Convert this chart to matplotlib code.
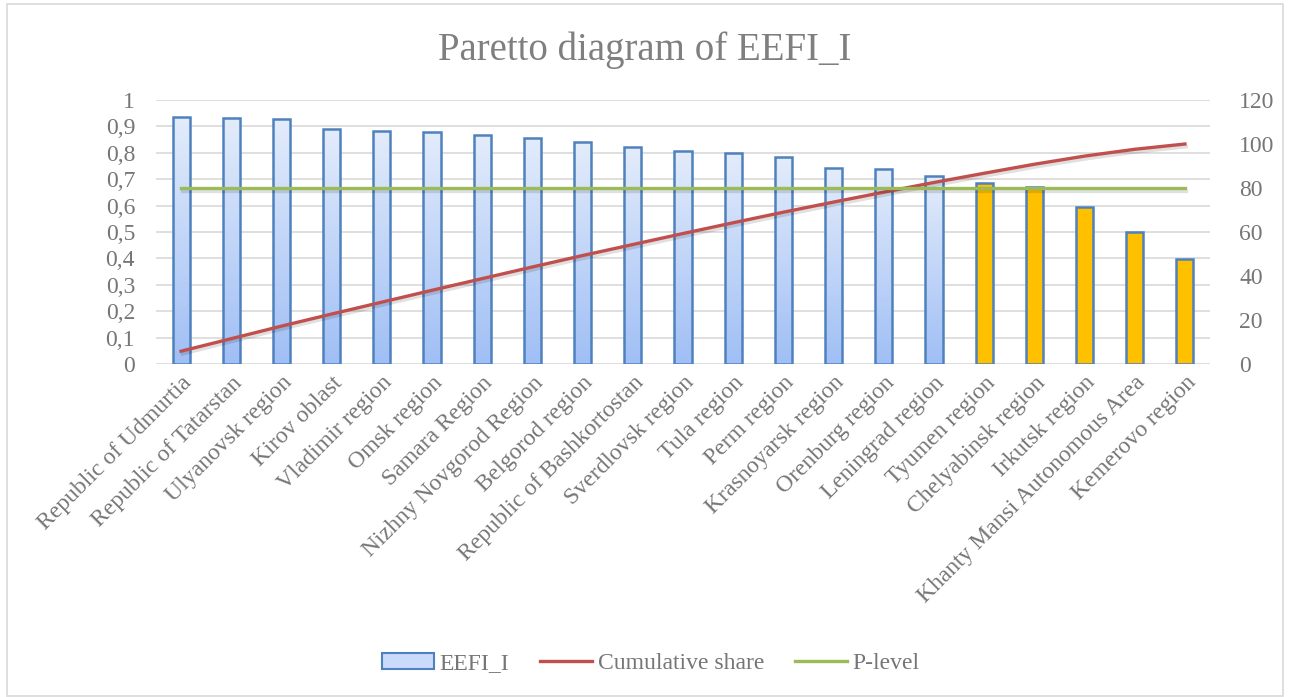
import numpy as np
import matplotlib.pyplot as plt
import matplotlib.patheffects as pe
from matplotlib.colors import LinearSegmentedColormap
from matplotlib.patches import Patch, Rectangle
from matplotlib.lines import Line2D

regions = [
    "Republic of Udmurtia", "Republic of Tatarstan", "Ulyanovsk region",
    "Kirov oblast", "Vladimir region", "Omsk region", "Samara Region",
    "Nizhny Novgorod Region", "Belgorod region", "Republic of Bashkortostan",
    "Sverdlovsk region", "Tula region", "Perm region", "Krasnoyarsk region",
    "Orenburg region", "Leningrad region", "Tyumen region",
    "Chelyabinsk region", "Irkutsk region", "Khanty Mansi Autonomous Area",
    "Kemerovo region",
]
eefi = [0.937, 0.933, 0.927, 0.892, 0.883, 0.879, 0.866, 0.857, 0.840,
        0.821, 0.807, 0.800, 0.783, 0.742, 0.737, 0.713, 0.687, 0.672,
        0.596, 0.500, 0.398]
cum_share = [5.8, 11.5, 17.2, 22.7, 28.1, 33.5, 38.8, 44.1, 49.3, 54.3,
             59.3, 64.2, 69.0, 73.6, 78.1, 82.5, 86.7, 90.8, 94.5, 97.6,
             100.0]
p_level = [80] * len(regions)
left_ticks = [0, 0.1, 0.2, 0.3, 0.4, 0.5, 0.6, 0.7, 0.8, 0.9, 1]
right_ticks = [0, 20, 40, 60, 80, 100, 120]

gray = "#767676"
edge_blue = "#4f81bd"
plt.rcParams["font.family"] = ["Liberation Serif", "DejaVu Serif"]

fig = plt.figure(figsize=(12.91, 6.97), dpi=100)
fig.patches.append(Rectangle((7 / 1291, 0.002), 1276 / 1291, 0.992,
                             transform=fig.transFigure, fill=False,
                             edgecolor="#d9d9d9", lw=1.2))
ax = fig.add_axes([0.1208, 0.4778, 0.8165, 0.3787])
x = np.arange(len(regions))

# light-blue vertical gradient for the regular bars
grad_cmap = LinearSegmentedColormap.from_list("bluegrad", ["#a0bff5", "#e3ecfb"])
grad = np.linspace(0, 1, 200).reshape(-1, 1)

bars = ax.bar(x, eefi, width=0.34, facecolor="none", edgecolor=edge_blue,
              lw=1.8, zorder=3)
for b, v in zip(bars, eefi):
    if v < 0.7:
        b.set_facecolor("#ffc000")
    else:
        x0 = b.get_x()
        im = ax.imshow(grad, extent=[x0, x0 + b.get_width(), 0, v],
                       origin="lower", aspect="auto", cmap=grad_cmap, zorder=2)
        im.set_clip_path(b)

ax.set_xlim(-0.5, len(regions) - 0.5)
ax.set_ylim(0, 1)
ax.set_yticks(left_ticks)
ax.set_yticklabels([f"{t:g}".replace(".", ",") for t in left_ticks])
ax.set_xticks(x)
ax.set_xticklabels(regions, rotation=45, ha="right", rotation_mode="anchor")
ax.grid(axis="y", color="#d9d9d9", lw=1.2, zorder=0)
ax.set_axisbelow(True)
for s in ax.spines.values():
    s.set_visible(False)
ax.tick_params(length=0, colors=gray, labelsize=17)
ax.tick_params(axis="y", pad=15)
ax.tick_params(axis="x", pad=6)

ax2 = ax.twinx()
shadow = [pe.SimpleLineShadow(offset=(1, -2), alpha=0.12), pe.Normal()]
ax2.plot(x, cum_share, color="#c0504d", lw=2.4, zorder=4, path_effects=shadow)
ax2.plot(x, p_level, color="#9bbb59", lw=2.4, zorder=4, path_effects=shadow)
ax2.set_ylim(0, 120)
ax2.set_yticks(right_ticks)
for s in ax2.spines.values():
    s.set_visible(False)
ax2.tick_params(length=0, colors=gray, labelsize=17, pad=21)

fig.text(0.499, 0.914, "Paretto diagram of EEFI_I", ha="center", va="baseline",
         fontsize=28, color="#7f7f7f")

handles = [
    Patch(facecolor="#c9dafa", edgecolor=edge_blue, lw=1.5),
    Line2D([], [], color="#c0504d", lw=2.4),
    Line2D([], [], color="#9bbb59", lw=2.4),
]
leg = fig.legend(handles, ["EEFI_I", "Cumulative share", "P-level"],
                 loc="center", bbox_to_anchor=(0.504, 0.048), ncol=3,
                 frameon=False, fontsize=17, handlelength=2.2,
                 handletextpad=0.25, columnspacing=1.3)
for t in leg.get_texts():
    t.set_color(gray)

fig.savefig("out.png", dpi=100)
